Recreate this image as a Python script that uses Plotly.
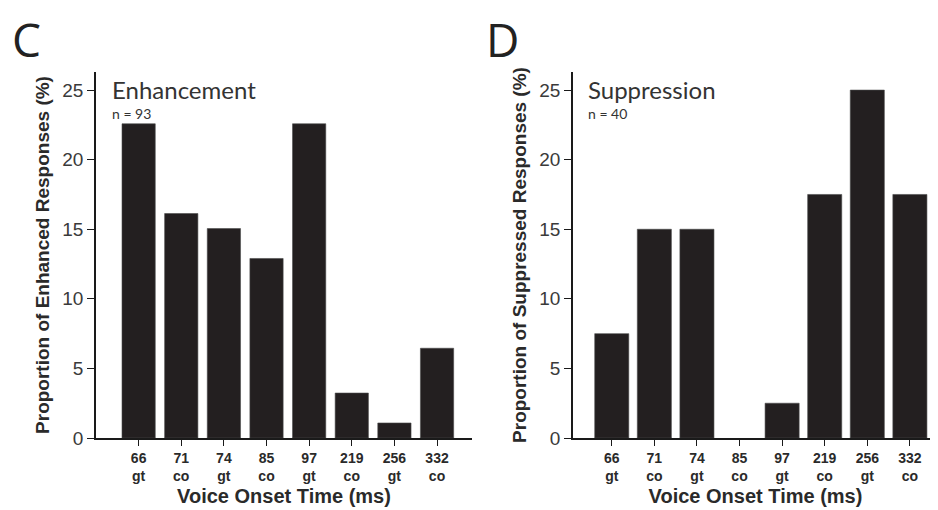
import plotly.graph_objects as go

categories = ["66<br>gt", "71<br>co", "74<br>gt", "85<br>co", "97<br>gt", "219<br>co", "256<br>gt", "332<br>co"]
enhanced_pct = [22.58, 16.13, 15.05, 12.90, 22.58, 3.23, 1.08, 6.45]
suppressed_pct = [7.5, 15.0, 15.0, 0.0, 2.5, 17.5, 25.0, 17.5]
y_ticks = [0, 5, 10, 15, 20, 25]
panel_labels = ["C", "D"]
panel_titles = ["Enhancement", "Suppression"]
panel_n = ["n = 93", "n = 40"]
y_titles = ["Proportion of Enhanced Responses (%)", "Proportion of Suppressed Responses (%)"]
x_title = "Voice Onset Time (ms)"

OFF = 8
W, H = 938 - OFF, 510 - OFF


def px(x):
    return (x - OFF) / W


def py(y):
    return 1 - (y - OFF) / H


idx = list(range(len(categories)))
bar_color = "#231f20"


def edge_widths(vals):
    return [0.6 if v > 0 else 0 for v in vals]


fig = go.Figure()
fig.add_trace(go.Bar(x=idx, y=enhanced_pct, width=0.78,
                     marker=dict(color=bar_color, line=dict(color="#4a4a4a", width=edge_widths(enhanced_pct))),
                     xaxis="x", yaxis="y", showlegend=False))
fig.add_trace(go.Bar(x=idx, y=suppressed_pct, width=0.8,
                     marker=dict(color=bar_color, line=dict(color="#4a4a4a", width=edge_widths(suppressed_pct))),
                     xaxis="x2", yaxis="y2", showlegend=False))

tickfont_y = dict(family="Liberation Sans, Arial, sans-serif", size=19, color="#3a3a3a")
tickfont_x = dict(family="Liberation Sans, Arial, sans-serif", size=14, color="#2a2a2a", weight="bold")
titlefont_y = dict(family="Liberation Sans, Arial, sans-serif", size=19, color="#2a2a2a", weight="bold")
titlefont_x = dict(family="Liberation Sans, Arial, sans-serif", size=20, color="#2a2a2a", weight="bold")

ydom = [py(438), py(72)]


def xax(domain, rng, anchor):
    return dict(domain=domain, range=rng, anchor=anchor, showline=True, linecolor="#1a1a1a", linewidth=1.6,
                ticks="outside", ticklen=6, tickwidth=1.4, tickcolor="#1a1a1a",
                tickmode="array", tickvals=idx, ticktext=categories, tickfont=tickfont_x,
                showgrid=False, zeroline=False, fixedrange=True, automargin=False,
                title=dict(text=x_title, font=titlefont_x, standoff=6))


def yax(domain, anchor, title):
    return dict(domain=domain, range=[0, 26.3], anchor=anchor, showline=True, linecolor="#1a1a1a", linewidth=1.6,
                ticks="outside", ticklen=7, tickwidth=1.4, tickcolor="#1a1a1a",
                tickmode="array", tickvals=y_ticks, tickfont=tickfont_y,
                showgrid=False, zeroline=False, fixedrange=True, automargin=False,
                title=dict(text=title, font=titlefont_y, standoff=8))


fig.update_layout(
    width=W, height=H,
    margin=dict(l=0, r=0, t=0, b=0, pad=0),
    paper_bgcolor="white", plot_bgcolor="white",
    xaxis=xax([px(96), px(472)], [-1.0, 7.82], "y"),
    yaxis=yax(ydom, "x", y_titles[0]),
    xaxis2=xax([px(573), 1.0], [-0.91, 7.66], "y2"),
    yaxis2=yax(ydom, "x2", y_titles[1]),
)

annots = []
for i, (xl, xt) in enumerate([(11, 111), (485, 587)]):
    annots.append(dict(text=panel_labels[i], x=px(xl), y=py(39), xref="paper", yref="paper",
                       xanchor="left", yanchor="middle", showarrow=False, borderpad=0,
                       font=dict(family="Open Sans, sans-serif", size=46, color="#222")))
    annots.append(dict(text=panel_titles[i], x=px(xt), y=py(74), xref="paper", yref="paper",
                       xanchor="left", yanchor="top", showarrow=False, borderpad=0,
                       font=dict(family="Lato, sans-serif", size=24, color="#333")))
    annots.append(dict(text=panel_n[i], x=px(xt), y=py(103.5), xref="paper", yref="paper",
                       xanchor="left", yanchor="top", showarrow=False, borderpad=0,
                       font=dict(family="Lato, sans-serif", size=14, color="#333")))
fig.update_layout(annotations=annots)

fig.write_html("out.html", config={"displayModeBar": False})
